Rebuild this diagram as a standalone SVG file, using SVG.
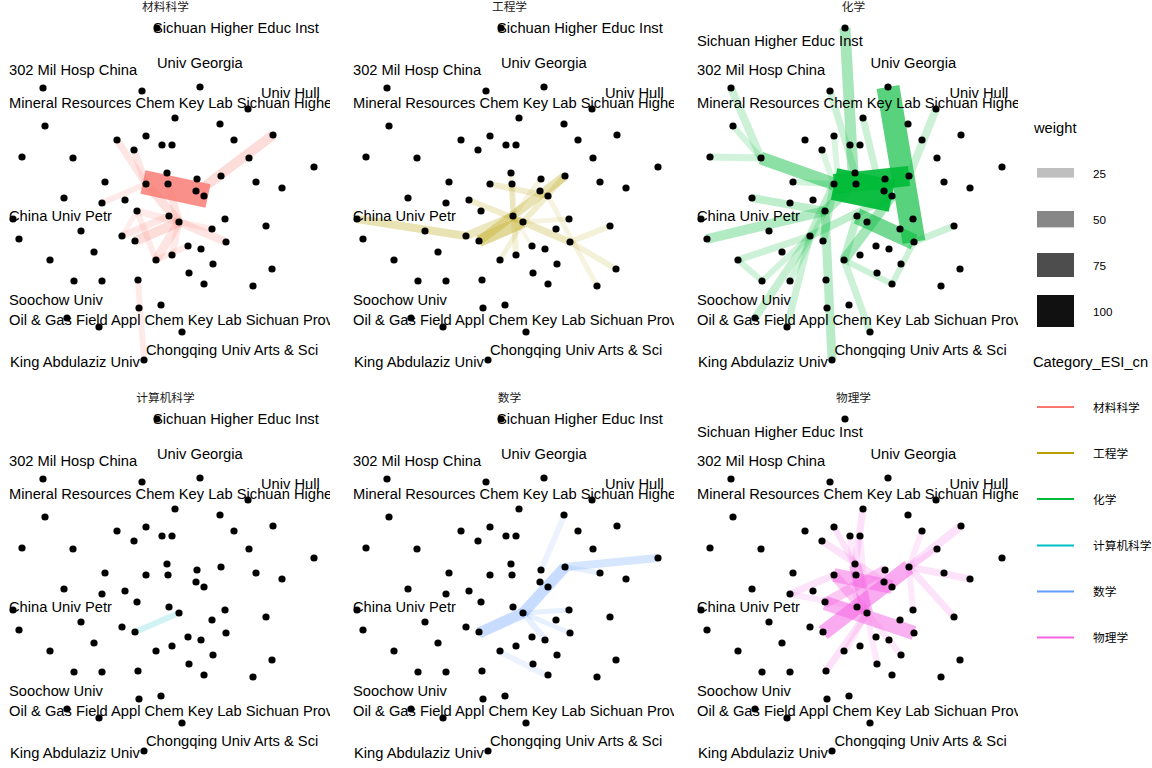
<svg xmlns="http://www.w3.org/2000/svg" xmlns:xlink="http://www.w3.org/1999/xlink" width="1152" height="768" viewBox="0 0 1152 768">
<defs>
<style>
.lbl{font-family:"Liberation Sans",Arial,sans-serif;font-size:14.7px;fill:#000}
.ttl{font-family:"Liberation Sans","Noto Sans CJK SC",sans-serif;font-size:11.7px;fill:#1a1a1a;text-anchor:middle}
.lgt{font-family:"Liberation Sans","Noto Sans CJK SC",sans-serif;font-size:14.7px;fill:#000}
.lgk{font-family:"Liberation Sans","Noto Sans CJK SC",sans-serif;font-size:11.7px;fill:#000}
.e line{stroke-linecap:butt;fill:none}
.nd{fill:#000}
</style>
<clipPath id="pc" clipPathUnits="userSpaceOnUse"><rect x="-10" y="-10" width="340" height="400"/></clipPath>
<g id="nodes" class="nd">
<circle id="n1" cx="157" cy="28" r="3.6"/>
<circle id="n2" cx="43" cy="88" r="3.6"/>
<circle id="n3" cx="142" cy="91" r="3.6"/>
<circle id="n4" cx="200" cy="87" r="3.6"/>
<circle id="n5" cx="248" cy="109" r="3.6"/>
<circle id="n6" cx="45" cy="126" r="3.6"/>
<circle id="n7" cx="175" cy="118" r="3.6"/>
<circle id="n8" cx="220" cy="124" r="3.6"/>
<circle id="n9" cx="117" cy="140" r="3.6"/>
<circle id="n10" cx="146" cy="136" r="3.6"/>
<circle id="n11" cx="273" cy="135" r="3.6"/>
<circle id="n12" cx="234" cy="140" r="3.6"/>
<circle id="n13" cx="134" cy="150" r="3.6"/>
<circle id="n14" cx="162" cy="145" r="3.6"/>
<circle id="n15" cx="172" cy="145" r="3.6"/>
<circle id="n16" cx="22" cy="157" r="3.6"/>
<circle id="n17" cx="73" cy="158" r="3.6"/>
<circle id="n18" cx="249" cy="158" r="3.6"/>
<circle id="n19" cx="314" cy="167" r="3.6"/>
<circle id="n20" cx="167" cy="173" r="3.6"/>
<circle id="n21" cx="105" cy="182" r="3.6"/>
<circle id="n22" cx="146" cy="184" r="3.6"/>
<circle id="n23" cx="168" cy="184" r="3.6"/>
<circle id="n24" cx="197" cy="179" r="3.6"/>
<circle id="n25" cx="221" cy="176" r="3.6"/>
<circle id="n26" cx="256" cy="182" r="3.6"/>
<circle id="n27" cx="282" cy="188" r="3.6"/>
<circle id="n28" cx="196" cy="191" r="3.6"/>
<circle id="n29" cx="204" cy="196" r="3.6"/>
<circle id="n30" cx="64" cy="198" r="3.6"/>
<circle id="n31" cx="102" cy="203" r="3.6"/>
<circle id="n32" cx="125" cy="200" r="3.6"/>
<circle id="n33" cx="137" cy="211" r="3.6"/>
<circle id="n34" cx="169" cy="216" r="3.6"/>
<circle id="n35" cx="13" cy="219" r="3.6"/>
<circle id="n36" cx="179" cy="222" r="3.6"/>
<circle id="n37" cx="225" cy="219" r="3.6"/>
<circle id="n38" cx="212" cy="229" r="3.6"/>
<circle id="n39" cx="266" cy="226" r="3.6"/>
<circle id="n40" cx="81" cy="231" r="3.6"/>
<circle id="n41" cx="122" cy="236" r="3.6"/>
<circle id="n42" cx="135" cy="241" r="3.6"/>
<circle id="n43" cx="19" cy="239" r="3.6"/>
<circle id="n44" cx="226" cy="242" r="3.6"/>
<circle id="n45" cx="188" cy="246" r="3.6"/>
<circle id="n46" cx="201" cy="249" r="3.6"/>
<circle id="n47" cx="94" cy="252" r="3.6"/>
<circle id="n48" cx="156" cy="260" r="3.6"/>
<circle id="n49" cx="172" cy="255" r="3.6"/>
<circle id="n50" cx="50" cy="260" r="3.6"/>
<circle id="n51" cx="213" cy="264" r="3.6"/>
<circle id="n52" cx="272" cy="269" r="3.6"/>
<circle id="n53" cx="74" cy="281" r="3.6"/>
<circle id="n54" cx="102" cy="281" r="3.6"/>
<circle id="n55" cx="138" cy="280" r="3.6"/>
<circle id="n56" cx="189" cy="273" r="3.6"/>
<circle id="n57" cx="204" cy="284" r="3.6"/>
<circle id="n58" cx="253" cy="286" r="3.6"/>
<circle id="n59" cx="139" cy="308" r="3.6"/>
<circle id="n60" cx="161" cy="305" r="3.6"/>
<circle id="n61" cx="67" cy="318" r="3.6"/>
<circle id="n62" cx="99" cy="327" r="3.6"/>
<circle id="n63" cx="182" cy="332" r="3.6"/>
<circle id="n64" cx="144" cy="360" r="3.6"/>
</g>
<g id="labelsA" class="lbl">
<text x="153" y="32.5">Sichuan Higher Educ Inst</text>
<text x="157" y="68">Univ Georgia</text>
<text x="9" y="75">302 Mil Hosp China</text>
<text x="261" y="97.5">Univ Hull</text>
<text x="9" y="107.5">Mineral Resources Chem Key Lab Sichuan Higher</text>
<text x="9" y="220.5">China Univ Petr</text>
<text x="9" y="305">Soochow Univ</text>
<text x="9" y="325">Oil &amp; Gas Field Appl Chem Key Lab Sichuan Prov</text>
<text x="146" y="355">Chongqing Univ Arts &amp; Sci</text>
<text x="10" y="366.5">King Abdulaziz Univ</text>
</g>
<g id="labelsB" class="lbl">
<text x="9" y="46">Sichuan Higher Educ Inst</text>
<text x="182.5" y="68">Univ Georgia</text>
<text x="9" y="75">302 Mil Hosp China</text>
<text x="261.5" y="97.5">Univ Hull</text>
<text x="9" y="107.5">Mineral Resources Chem Key Lab Sichuan Higher</text>
<text x="9" y="220.5">China Univ Petr</text>
<text x="9" y="305">Soochow Univ</text>
<text x="9" y="325">Oil &amp; Gas Field Appl Chem Key Lab Sichuan Prov</text>
<text x="146.5" y="355">Chongqing Univ Arts &amp; Sci</text>
<text x="10" y="366.5">King Abdulaziz Univ</text>
</g>
</defs>
<rect width="1152" height="768" fill="#fff"/>

<!-- Panel 1: 材料科学 -->
<g id="panel-materials">
<text class="ttl" x="165.5" y="11">材料科学</text>
<g id="edges-materials" class="e" stroke="#F8766D">
<line x1="117" y1="140" x2="146" y2="184" stroke-width="7" stroke-opacity="0.18"/>
<line x1="134" y1="150" x2="146" y2="184" stroke-width="7" stroke-opacity="0.18"/>
<line x1="102" y1="203" x2="146" y2="184" stroke-width="6" stroke-opacity="0.15"/>
<line x1="273" y1="135" x2="200" y2="190" stroke-width="10" stroke-opacity="0.25"/>
<line x1="179" y1="222" x2="150" y2="188" stroke-width="9" stroke-opacity="0.22"/>
<line x1="179" y1="222" x2="168" y2="184" stroke-width="8" stroke-opacity="0.2"/>
<line x1="179" y1="222" x2="135" y2="241" stroke-width="10" stroke-opacity="0.25"/>
<line x1="122" y1="236" x2="169" y2="216" stroke-width="7" stroke-opacity="0.18"/>
<line x1="179" y1="222" x2="137" y2="211" stroke-width="7" stroke-opacity="0.15"/>
<line x1="179" y1="222" x2="226" y2="242" stroke-width="8" stroke-opacity="0.2"/>
<line x1="179" y1="222" x2="212" y2="229" stroke-width="6" stroke-opacity="0.15"/>
<line x1="179" y1="222" x2="156" y2="260" stroke-width="9" stroke-opacity="0.2"/>
<line x1="179" y1="222" x2="172" y2="255" stroke-width="7" stroke-opacity="0.15"/>
<line x1="137" y1="211" x2="156" y2="260" stroke-width="6" stroke-opacity="0.15"/>
<line x1="122" y1="236" x2="137" y2="211" stroke-width="5" stroke-opacity="0.12"/>
<line x1="156" y1="260" x2="188" y2="246" stroke-width="6" stroke-opacity="0.15"/>
<line x1="138" y1="280" x2="144" y2="360" stroke-width="6" stroke-opacity="0.15"/>
<line x1="143" y1="182" x2="208" y2="196" stroke-width="24" stroke-opacity="0.8"/>
</g>
<use href="#nodes" xlink:href="#nodes"/>
<use href="#labelsA" xlink:href="#labelsA" clip-path="url(#pc)"/>
</g>

<!-- Panel 2: 工程学 -->
<g id="panel-engineering" transform="translate(344,0)">
<text class="ttl" x="165.5" y="11">工程学</text>
<g id="edges-engineering" class="e" stroke="#B79F00">
<line x1="13" y1="219" x2="122" y2="236" stroke-width="8" stroke-opacity="0.3"/>
<line x1="122" y1="236" x2="169" y2="216" stroke-width="8" stroke-opacity="0.25"/>
<line x1="135" y1="241" x2="179" y2="222" stroke-width="12" stroke-opacity="0.4"/>
<line x1="135" y1="241" x2="221" y2="176" stroke-width="9" stroke-opacity="0.3"/>
<line x1="146" y1="184" x2="204" y2="196" stroke-width="6" stroke-opacity="0.2"/>
<line x1="168" y1="184" x2="172" y2="255" stroke-width="6" stroke-opacity="0.15"/>
<line x1="125" y1="200" x2="179" y2="222" stroke-width="6" stroke-opacity="0.2"/>
<line x1="179" y1="222" x2="226" y2="242" stroke-width="7" stroke-opacity="0.25"/>
<line x1="179" y1="222" x2="225" y2="219" stroke-width="5" stroke-opacity="0.12"/>
<line x1="226" y1="242" x2="266" y2="226" stroke-width="6" stroke-opacity="0.15"/>
<line x1="226" y1="242" x2="272" y2="269" stroke-width="6" stroke-opacity="0.15"/>
<line x1="204" y1="196" x2="253" y2="286" stroke-width="5" stroke-opacity="0.12"/>
<line x1="179" y1="222" x2="156" y2="260" stroke-width="5" stroke-opacity="0.15"/>
<line x1="167" y1="173" x2="169" y2="216" stroke-width="5" stroke-opacity="0.12"/>
<line x1="197" y1="179" x2="169" y2="216" stroke-width="5" stroke-opacity="0.12"/>
<line x1="169" y1="216" x2="188" y2="246" stroke-width="4" stroke-opacity="0.1"/>
<line x1="179" y1="222" x2="221" y2="176" stroke-width="6" stroke-opacity="0.2"/>
</g>
<use href="#nodes" xlink:href="#nodes"/>
<use href="#labelsA" xlink:href="#labelsA" clip-path="url(#pc)"/>
</g>

<!-- Panel 3: 化学 -->
<g id="panel-chemistry" transform="translate(688,0)">
<text class="ttl" x="165.5" y="11">化学</text>
<g id="edges-chemistry" class="e" stroke="#00BA38">
<line x1="43" y1="88" x2="73" y2="158" stroke-width="8" stroke-opacity="0.2"/>
<line x1="45" y1="126" x2="73" y2="158" stroke-width="6" stroke-opacity="0.18"/>
<line x1="22" y1="157" x2="73" y2="158" stroke-width="7" stroke-opacity="0.18"/>
<line x1="73" y1="158" x2="146" y2="184" stroke-width="13" stroke-opacity="0.45"/>
<line x1="157" y1="28" x2="165" y2="172" stroke-width="11" stroke-opacity="0.35"/>
<line x1="142" y1="91" x2="167" y2="173" stroke-width="7" stroke-opacity="0.2"/>
<line x1="248" y1="109" x2="221" y2="176" stroke-width="8" stroke-opacity="0.2"/>
<line x1="134" y1="150" x2="146" y2="184" stroke-width="6" stroke-opacity="0.15"/>
<line x1="146" y1="136" x2="150" y2="180" stroke-width="6" stroke-opacity="0.15"/>
<line x1="175" y1="118" x2="190" y2="180" stroke-width="7" stroke-opacity="0.2"/>
<line x1="19" y1="239" x2="137" y2="211" stroke-width="10" stroke-opacity="0.3"/>
<line x1="64" y1="198" x2="137" y2="211" stroke-width="8" stroke-opacity="0.25"/>
<line x1="50" y1="260" x2="122" y2="236" stroke-width="7" stroke-opacity="0.2"/>
<line x1="50" y1="260" x2="74" y2="281" stroke-width="6" stroke-opacity="0.18"/>
<line x1="74" y1="281" x2="122" y2="236" stroke-width="6" stroke-opacity="0.18"/>
<line x1="67" y1="318" x2="122" y2="236" stroke-width="8" stroke-opacity="0.22"/>
<line x1="99" y1="327" x2="122" y2="236" stroke-width="7" stroke-opacity="0.2"/>
<line x1="102" y1="281" x2="137" y2="211" stroke-width="6" stroke-opacity="0.18"/>
<line x1="144" y1="360" x2="137" y2="211" stroke-width="9" stroke-opacity="0.28"/>
<line x1="156" y1="260" x2="182" y2="332" stroke-width="7" stroke-opacity="0.2"/>
<line x1="156" y1="260" x2="204" y2="284" stroke-width="6" stroke-opacity="0.2"/>
<line x1="204" y1="284" x2="226" y2="242" stroke-width="6" stroke-opacity="0.2"/>
<line x1="156" y1="260" x2="204" y2="196" stroke-width="10" stroke-opacity="0.35"/>
<line x1="135" y1="241" x2="146" y2="184" stroke-width="8" stroke-opacity="0.25"/>
<line x1="122" y1="236" x2="146" y2="184" stroke-width="8" stroke-opacity="0.25"/>
<line x1="137" y1="211" x2="160" y2="190" stroke-width="10" stroke-opacity="0.3"/>
<line x1="266" y1="226" x2="226" y2="242" stroke-width="7" stroke-opacity="0.2"/>
<line x1="105" y1="182" x2="146" y2="184" stroke-width="6" stroke-opacity="0.18"/>
<line x1="156" y1="260" x2="169" y2="216" stroke-width="8" stroke-opacity="0.25"/>
<line x1="122" y1="236" x2="204" y2="196" stroke-width="8" stroke-opacity="0.25"/>
<line x1="169" y1="216" x2="226" y2="242" stroke-width="16" stroke-opacity="0.55"/>
<line x1="200" y1="87" x2="226" y2="242" stroke-width="23" stroke-opacity="0.65"/>
<line x1="146" y1="184" x2="221" y2="176" stroke-width="20" stroke-opacity="0.9"/>
<line x1="146" y1="184" x2="204" y2="196" stroke-width="32" stroke-opacity="0.95"/>
</g>
<use href="#nodes" xlink:href="#nodes"/>
<use href="#labelsB" xlink:href="#labelsB" clip-path="url(#pc)"/>
</g>

<!-- Panel 4: 计算机科学 -->
<g id="panel-computer" transform="translate(0,391)">
<text class="ttl" x="165.5" y="10.5">计算机科学</text>
<g id="edges-computer" class="e" stroke="#00BFC4">
<line x1="135" y1="241" x2="179" y2="222" stroke-width="6" stroke-opacity="0.18"/>
</g>
<use href="#nodes" xlink:href="#nodes"/>
<use href="#labelsA" xlink:href="#labelsA" clip-path="url(#pc)"/>
</g>

<!-- Panel 5: 数学 -->
<g id="panel-math" transform="translate(344,391)">
<text class="ttl" x="165.5" y="10.5">数学</text>
<g id="edges-math" class="e" stroke="#619CFF">
<line x1="135" y1="242" x2="179" y2="222" stroke-width="11" stroke-opacity="0.35"/>
<line x1="179" y1="222" x2="221" y2="176" stroke-width="11" stroke-opacity="0.35"/>
<line x1="221" y1="176" x2="314" y2="167" stroke-width="8" stroke-opacity="0.25"/>
<line x1="221" y1="176" x2="256" y2="182" stroke-width="5" stroke-opacity="0.15"/>
<line x1="220" y1="125" x2="197" y2="179" stroke-width="6" stroke-opacity="0.12"/>
<line x1="179" y1="222" x2="225" y2="219" stroke-width="5" stroke-opacity="0.15"/>
<line x1="179" y1="222" x2="226" y2="242" stroke-width="5" stroke-opacity="0.15"/>
<line x1="179" y1="222" x2="201" y2="248" stroke-width="6" stroke-opacity="0.15"/>
<line x1="156" y1="261" x2="204" y2="285" stroke-width="6" stroke-opacity="0.12"/>
</g>
<use href="#nodes" xlink:href="#nodes"/>
<use href="#labelsA" xlink:href="#labelsA" clip-path="url(#pc)"/>
</g>

<!-- Panel 6: 物理学 -->
<g id="panel-physics" transform="translate(688,391)">
<text class="ttl" x="165.5" y="10.5">物理学</text>
<g id="edges-physics" class="e" stroke="#F564E3">
<line x1="175" y1="118" x2="167" y2="174" stroke-width="7" stroke-opacity="0.2"/>
<line x1="146" y1="136" x2="167" y2="174" stroke-width="6" stroke-opacity="0.18"/>
<line x1="162" y1="145" x2="169" y2="216" stroke-width="6" stroke-opacity="0.15"/>
<line x1="172" y1="145" x2="179" y2="222" stroke-width="6" stroke-opacity="0.15"/>
<line x1="134" y1="150" x2="196" y2="191" stroke-width="7" stroke-opacity="0.18"/>
<line x1="273" y1="135" x2="221" y2="176" stroke-width="8" stroke-opacity="0.2"/>
<line x1="234" y1="140" x2="221" y2="176" stroke-width="6" stroke-opacity="0.15"/>
<line x1="249" y1="158" x2="221" y2="176" stroke-width="6" stroke-opacity="0.15"/>
<line x1="221" y1="176" x2="282" y2="188" stroke-width="7" stroke-opacity="0.18"/>
<line x1="221" y1="176" x2="266" y2="226" stroke-width="7" stroke-opacity="0.18"/>
<line x1="221" y1="176" x2="225" y2="219" stroke-width="6" stroke-opacity="0.15"/>
<line x1="102" y1="203" x2="146" y2="184" stroke-width="7" stroke-opacity="0.18"/>
<line x1="102" y1="203" x2="169" y2="216" stroke-width="6" stroke-opacity="0.15"/>
<line x1="179" y1="222" x2="189" y2="273" stroke-width="6" stroke-opacity="0.15"/>
<line x1="179" y1="222" x2="157" y2="261" stroke-width="6" stroke-opacity="0.15"/>
<line x1="179" y1="222" x2="138" y2="280" stroke-width="7" stroke-opacity="0.2"/>
<line x1="179" y1="222" x2="213" y2="264" stroke-width="6" stroke-opacity="0.15"/>
<line x1="137" y1="212" x2="197" y2="179" stroke-width="10" stroke-opacity="0.35"/>
<line x1="146" y1="184" x2="179" y2="222" stroke-width="10" stroke-opacity="0.35"/>
<line x1="167" y1="174" x2="179" y2="222" stroke-width="12" stroke-opacity="0.45"/>
<line x1="146" y1="184" x2="204" y2="196" stroke-width="14" stroke-opacity="0.5"/>
<line x1="137" y1="212" x2="226" y2="242" stroke-width="14" stroke-opacity="0.5"/>
<line x1="135" y1="242" x2="221" y2="176" stroke-width="15" stroke-opacity="0.55"/>
</g>
<use href="#nodes" xlink:href="#nodes"/>
<use href="#labelsB" xlink:href="#labelsB" clip-path="url(#pc)"/>
</g>

<!-- Legend -->
<g id="legend-weight">
<text class="lgt" x="1034" y="133">weight</text>
<rect x="1037" y="168" width="37" height="9.6" fill="#bfbfbf"/>
<text class="lgk" x="1093" y="177.5">25</text>
<rect x="1037" y="211" width="37" height="16.4" fill="#878787"/>
<text class="lgk" x="1093" y="223.5">50</text>
<rect x="1037" y="253" width="37" height="24" fill="#4d4d4d"/>
<text class="lgk" x="1093" y="269.5">75</text>
<rect x="1037" y="295" width="37" height="32" fill="#111111"/>
<text class="lgk" x="1093" y="315.5">100</text>
</g>
<g id="legend-category">
<text class="lgt" x="1033" y="367">Category_ESI_cn</text>
<line x1="1037" y1="407" x2="1074" y2="407" stroke="#F8766D" stroke-width="2"/>
<text class="lgk" x="1093" y="411.5">材料科学</text>
<line x1="1037" y1="453" x2="1074" y2="453" stroke="#B79F00" stroke-width="2"/>
<text class="lgk" x="1093" y="457.5">工程学</text>
<line x1="1037" y1="499" x2="1074" y2="499" stroke="#00BA38" stroke-width="2"/>
<text class="lgk" x="1093" y="503.5">化学</text>
<line x1="1037" y1="545.5" x2="1074" y2="545.5" stroke="#00BFC4" stroke-width="2"/>
<text class="lgk" x="1093" y="550">计算机科学</text>
<line x1="1037" y1="591.5" x2="1074" y2="591.5" stroke="#619CFF" stroke-width="2"/>
<text class="lgk" x="1093" y="596">数学</text>
<line x1="1037" y1="637.5" x2="1074" y2="637.5" stroke="#F564E3" stroke-width="2"/>
<text class="lgk" x="1093" y="642">物理学</text>
</g>
</svg>
